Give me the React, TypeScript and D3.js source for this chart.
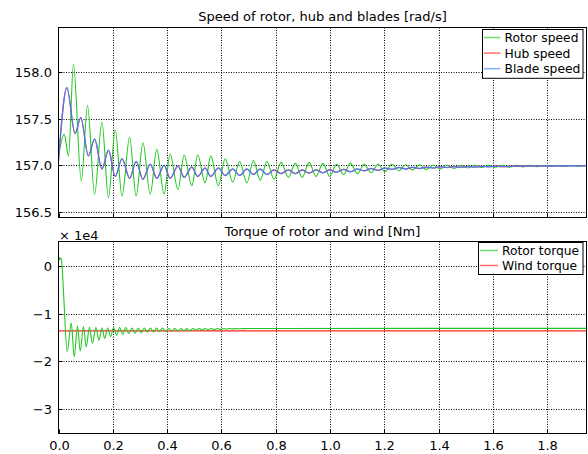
import React, { useEffect, useRef } from 'react';
import * as d3 from 'd3';

// --- Data (extrema of each signal, seconds / rad/s / Nm) ---
const timeTicks = [0, 0.2, 0.4, 0.6, 0.8, 1.0, 1.2, 1.4, 1.6, 1.8];
const speedTicks = [156.5, 157.0, 157.5, 158.0];
const torqueTicks = [-30000, -20000, -10000, 0];

const rotorSpeed: [number, number][] = [
  [0, 157.10], [0.021, 157.33], [0.037, 157.10], [0.055, 158.08], [0.084, 156.83],
  [0.107, 157.64], [0.133, 156.69], [0.160, 157.46], [0.184, 156.65], [0.209, 157.38],
  [0.234, 156.67], [0.262, 157.30], [0.286, 156.67], [0.311, 157.24], [0.338, 156.69],
  [0.362, 157.17], [0.389, 156.69], [0.411, 157.12], [0.440, 156.74], [0.463, 157.11],
  [0.491, 156.78], [0.513, 157.11], [0.540, 156.81], [0.561, 157.10], [0.589, 156.78],
  [0.614, 157.07], [0.642, 156.82], [0.667, 157.04], [0.694, 156.81], [0.718, 157.05],
  [0.743, 156.84], [0.768, 157.04], [0.794, 156.85], [0.820, 157.03], [0.847, 156.87],
  [0.872, 157.02], [0.898, 156.87], [0.923, 157.03], [0.949, 156.88], [0.974, 157.02],
  [0.999, 156.88], [1.024, 157.01], [1.050, 156.90], [1.075, 157.02], [1.101, 156.91],
  [1.126, 157.01], [1.152, 156.92], [1.177, 157.01], [1.203, 156.93], [1.228, 157.01],
  [1.254, 156.94], [1.279, 157.005], [1.304, 156.95], [1.330, 157.005], [1.355, 156.955],
  [1.380, 157.0], [1.406, 156.96], [1.431, 157.0], [1.457, 156.965], [1.482, 157.0],
  [1.508, 156.97], [1.533, 157.0], [1.559, 156.975], [1.584, 157.0], [1.610, 156.978],
  [1.635, 157.0], [1.661, 156.98], [1.686, 157.0], [1.711, 156.982], [1.737, 156.998],
  [1.762, 156.985], [1.787, 156.998], [1.813, 156.987], [1.838, 156.998], [1.864, 156.988],
  [1.889, 156.997], [1.915, 156.99], [1.945, 156.997],
];

const bladeSpeed: [number, number][] = [
  [0, 157.05], [0.031, 157.83], [0.061, 157.34], [0.082, 157.51], [0.110, 157.10],
  [0.133, 157.28], [0.160, 156.96], [0.184, 157.16], [0.209, 156.88], [0.234, 157.07],
  [0.262, 156.86], [0.286, 157.04], [0.311, 156.85], [0.338, 157.01], [0.362, 156.86],
  [0.389, 157.00], [0.411, 156.86], [0.440, 156.99], [0.463, 156.87], [0.491, 156.98],
  [0.513, 156.88], [0.540, 156.97], [0.561, 156.88], [0.589, 156.97], [0.614, 156.89],
  [0.642, 156.96], [0.667, 156.89], [0.694, 156.96], [0.718, 156.90], [0.743, 156.96],
  [0.768, 156.90], [0.794, 156.95], [0.820, 156.91], [0.847, 156.95], [0.872, 156.91],
  [0.898, 156.95], [0.923, 156.915], [0.949, 156.95], [0.974, 156.92], [0.999, 156.95],
  [1.024, 156.925], [1.050, 156.955], [1.075, 156.93], [1.101, 156.96], [1.126, 156.94],
  [1.152, 156.965], [1.177, 156.945], [1.203, 156.97], [1.228, 156.955], [1.254, 156.975],
  [1.279, 156.96], [1.304, 156.978], [1.330, 156.965], [1.355, 156.98], [1.380, 156.97],
  [1.406, 156.983], [1.431, 156.975], [1.457, 156.985], [1.482, 156.978], [1.508, 156.987],
  [1.533, 156.98], [1.559, 156.988], [1.584, 156.983], [1.610, 156.99], [1.635, 156.985],
  [1.686, 156.99], [1.787, 156.992], [1.945, 156.994],
];

// hub and blade speed coincide in the reference, the hub trace sits under the blade trace
const hubSpeed: [number, number][] = bladeSpeed;

const rotorTorque: [number, number][] = [
  [0, 900], [0.002, 1800], [0.004, 1300], [0.006, 1700], [0.008, 1400], [0.010, 1500],
  [0.012, 900], [0.019, -6100], [0.032, -18000], [0.047, -12000], [0.058, -19000],
  [0.070, -12600], [0.080, -17800], [0.092, -12700], [0.102, -17000], [0.114, -12800],
  [0.125, -16200], [0.138, -12900], [0.149, -15600], [0.160, -13000], [0.170, -15200],
  [0.181, -13000], [0.192, -14800], [0.203, -12900], [0.214, -14500], [0.225, -12900],
  [0.237, -14300], [0.248, -12900], [0.259, -14200], [0.271, -13000], [0.282, -14100],
  [0.294, -13000], [0.305, -14000], [0.316, -13000], [0.327, -13900], [0.339, -13000],
  [0.350, -13850], [0.361, -13000], [0.372, -13800], [0.383, -13000], [0.395, -13750],
  [0.406, -13050], [0.417, -13700], [0.428, -13050], [0.439, -13650], [0.451, -13100],
  [0.462, -13600], [0.473, -13100], [0.484, -13550], [0.496, -13100], [0.507, -13500],
  [0.518, -13100], [0.529, -13450], [0.541, -13100], [0.552, -13400], [0.563, -13100],
  [0.574, -13350], [0.586, -13100], [0.597, -13300], [0.608, -13100], [0.619, -13250],
  [0.631, -13100], [0.642, -13200], [0.653, -13100], [0.664, -13180], [0.700, -13120],
  [0.800, -13100], [1.945, -13080],
];

const windTorque: [number, number][] = [[0, -13600], [1.945, -13600]];

const speedLabels = ['Rotor speed', 'Hub speed', 'Blade speed'];
const torqueLabels = ['Rotor torque', 'Wind torque'];

// --- Drawing ---
const W = 588;
const H = 454;
const FONT = '"DejaVu Sans", Verdana, sans-serif';
const FS = 13;
const LEGEND_FS = 12.3;
const colors = { green: '#22c822', red: '#ff2020', blue: '#3f80ff', grid: '#000' };

type Series = { data: [number, number][]; color: string; width: number; opacity?: number };

const App = () => {
  const ref = useRef<SVGSVGElement | null>(null);

  useEffect(() => {
    if (!ref.current) return;
    const svg = d3.select(ref.current);
    svg.selectAll('*').remove();

    const left = 58.5;
    const right = 586.5;
    const x = d3.scaleLinear().domain([0, 1.945]).range([left, right]);

    const drawPanel = (opts: {
      id: string; top: number; bottom: number; domain: [number, number]; ticks: number[];
      fmt: (v: number) => string; title: string; titleY: number; series: Series[]; showX: boolean;
    }) => {
      const y = d3.scaleLinear().domain(opts.domain).range([opts.bottom, opts.top]);
      const g = svg.append('g');

      svg.append('defs').append('clipPath').attr('id', opts.id)
        .append('rect').attr('x', left).attr('y', opts.top).attr('width', right - left).attr('height', opts.bottom - opts.top);

      // grid
      timeTicks.filter(t => t > 0).forEach(t => {
        g.append('line').attr('x1', Math.round(x(t)) + 0.5).attr('x2', Math.round(x(t)) + 0.5)
          .attr('y1', opts.top).attr('y2', opts.bottom)
          .attr('stroke', colors.grid).attr('stroke-width', 1).attr('stroke-dasharray', '1,1.5');
      });
      opts.ticks.forEach(v => {
        const yy = Math.round(y(v)) + 0.5;
        g.append('line').attr('x1', left).attr('x2', right).attr('y1', yy).attr('y2', yy)
          .attr('stroke', colors.grid).attr('stroke-width', 1).attr('stroke-dasharray', '1,1.5');
        g.append('line').attr('x1', left).attr('x2', left + 4).attr('y1', yy).attr('y2', yy).attr('stroke', '#000');
        g.append('text').attr('x', 52).attr('y', yy + 4.7).attr('text-anchor', 'end')
          .attr('font-family', FONT).attr('font-size', FS).attr('fill', '#000').text(opts.fmt(v));
      });
      timeTicks.forEach(t => {
        const xx = Math.round(x(t)) + 0.5;
        g.append('line').attr('x1', xx).attr('x2', xx).attr('y1', opts.bottom).attr('y2', opts.bottom - 4).attr('stroke', '#000');
        if (opts.showX) {
          g.append('text').attr('x', xx).attr('y', 449.5).attr('text-anchor', 'middle')
            .attr('font-family', FONT).attr('font-size', FS).attr('fill', '#000').text(d3.format('.1f')(t));
        }
      });

      // lines
      const line = d3.line<[number, number]>().x(d => x(d[0])).y(d => y(d[1])).curve(d3.curveMonotoneX);
      const lines = g.append('g').attr('clip-path', `url(#${opts.id})`);
      opts.series.forEach(s => {
        lines.append('path').attr('d', line(s.data) || '').attr('fill', 'none')
          .attr('stroke', s.color).attr('stroke-width', s.width).attr('stroke-opacity', s.opacity ?? 1);
      });

      // frame
      g.append('rect').attr('x', left).attr('y', opts.top).attr('width', right - left).attr('height', opts.bottom - opts.top)
        .attr('fill', 'none').attr('stroke', '#000').attr('stroke-width', 1);

      g.append('text').attr('x', (left + right) / 2).attr('y', opts.titleY).attr('text-anchor', 'middle')
        .attr('font-family', FONT).attr('font-size', FS).attr('fill', '#000').text(opts.title);
      return g;
    };

    const legend = (g: d3.Selection<SVGGElement, unknown, null, undefined>, bx: number, by: number, bw: number,
      rowH: number, lineW: number, items: { label: string; color: string }[]) => {
      const lg = g.append('g');
      lg.append('rect').attr('x', bx).attr('y', by).attr('width', bw).attr('height', items.length * rowH + 2)
        .attr('fill', '#fff').attr('stroke', '#000').attr('stroke-width', 1);
      items.forEach((it, i) => {
        const cy = by + 8 + i * rowH;
        lg.append('line').attr('x1', bx + 1.5).attr('x2', bx + 1.5 + lineW).attr('y1', cy).attr('y2', cy)
          .attr('stroke', it.color).attr('stroke-width', 1.5).attr('stroke-opacity', 0.65);
        lg.append('text').attr('x', bx + lineW + 5.5).attr('y', cy + 4.5).attr('font-family', FONT)
          .attr('font-size', LEGEND_FS).attr('fill', '#000').text(it.label);
      });
    };

    const top = drawPanel({
      id: 'clip-speed', top: 27.5, bottom: 217.5, domain: [156.44, 158.475], ticks: speedTicks,
      fmt: d3.format('.1f'), title: 'Speed of rotor, hub and blades [rad/s]', titleY: 21, showX: false,
      series: [
        { data: rotorSpeed, color: colors.green, width: 1.1 },
        { data: hubSpeed, color: colors.red, width: 1.1 },
        { data: bladeSpeed, color: colors.blue, width: 1.4, opacity: 0.85 },
      ],
    });
    legend(top, 482.5, 29.5, 100.5, 15.6, 16.5, [
      { label: speedLabels[0], color: colors.green },
      { label: speedLabels[1], color: colors.red },
      { label: speedLabels[2], color: colors.blue },
    ]);

    const bottom = drawPanel({
      id: 'clip-torque', top: 241.5, bottom: 433.5, domain: [-35100, 5100], ticks: torqueTicks,
      fmt: v => d3.format('d')(v / 1e4), title: 'Torque of rotor and wind [Nm]', titleY: 236, showX: true,
      series: [
        { data: windTorque, color: colors.red, width: 1.2 },
        { data: rotorTorque, color: colors.green, width: 1.1 },
      ],
    });
    legend(bottom, 478.5, 242.5, 104.5, 15, 18, [
      { label: torqueLabels[0], color: colors.green },
      { label: torqueLabels[1], color: colors.red },
    ]);
    bottom.append('text').attr('x', 59).attr('y', 239.5).attr('font-family', FONT).attr('font-size', FS)
      .attr('fill', '#000').text('× 1e4');
  }, []);

  return (
    <svg ref={ref} width={W} height={H} style={{ position: 'absolute', left: 0, top: 0, background: '#fff' }} />
  );
};

export default App;
